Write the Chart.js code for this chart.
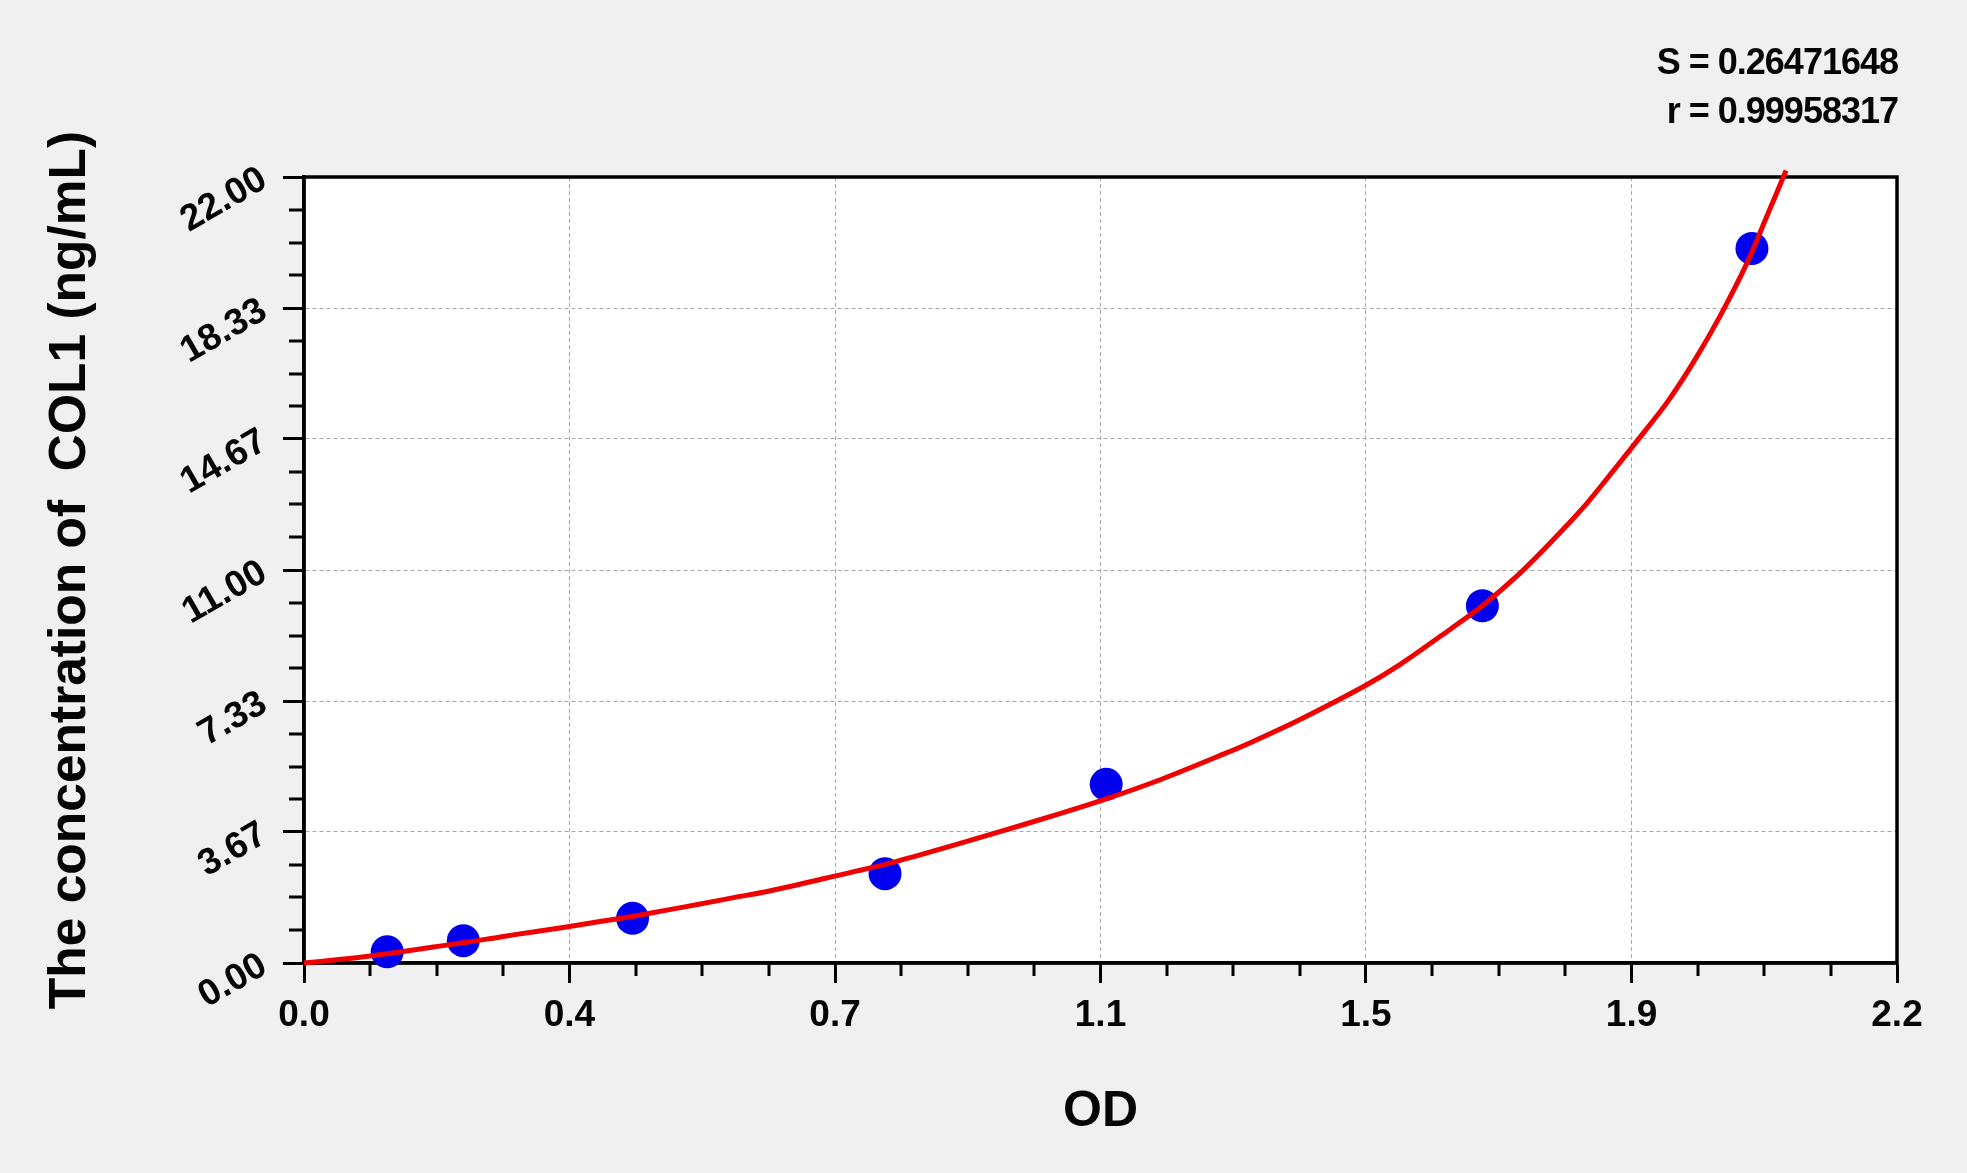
<!DOCTYPE html>
<html>
<head>
<meta charset="utf-8">
<script src="https://cdn.jsdelivr.net/npm/chart.js@4.4.1/dist/chart.umd.min.js"></script>
<style>
  html, body { margin: 0; padding: 0; background: #f0f0f0; }
  canvas { display: block; }
</style>
</head>
<body>
<canvas id="c" width="1967" height="1173"></canvas>
<script>
// ---- Data ----
const odX   = [0.117, 0.224, 0.462, 0.817, 1.128, 1.657, 2.036];
const concY = [0.3125, 0.625, 1.25, 2.5, 5, 10, 20];

const curveX = [0, 0.046, 0.088, 0.135, 0.182, 0.229, 0.276, 0.322, 0.369, 0.416, 0.463, 0.510, 0.557, 0.604, 0.651,
                0.735, 0.817, 0.876, 0.969, 1.063, 1.129, 1.204, 1.297, 1.330, 1.400, 1.492, 1.541, 1.611, 1.657,
                1.705, 1.752, 1.799, 1.846, 1.874, 1.916, 1.953, 1.991, 2.029, 2.057, 2.084];
const curveY = [0, 0.09, 0.18, 0.31, 0.45, 0.58, 0.73, 0.87, 1.01, 1.16, 1.31, 1.48, 1.65, 1.83, 2.00,
                2.38, 2.76, 3.08, 3.62, 4.18, 4.60, 5.13, 5.88, 6.16, 6.81, 7.76, 8.35, 9.33, 10.0,
                10.82, 11.75, 12.75, 13.90, 14.60, 15.67, 16.79, 18.10, 19.59, 20.90, 22.18];

const xTickValues = [0, 0.3733, 0.7467, 1.12, 1.4933, 1.8667, 2.24];
const xTickLabels = ['0.0', '0.4', '0.7', '1.1', '1.5', '1.9', '2.2'];
const yTickValues = [0, 3.67, 7.33, 11, 14.67, 18.33, 22];
const yTickLabels = ['0.00', '3.67', '7.33', '11.00', '14.67', '18.33', '22.00'];

const xTitle = 'OD';
const yTitle = 'The concentration of  COL1 (ng/mL)';
const statLines = ['S = 0.26471648', 'r = 0.99958317'];

// ---- Build datasets ----
const curveData = curveX.map((x, i) => ({ x: x, y: curveY[i] }));
const pointData = odX.map((x, i) => ({ x: x, y: concY[i] }));

const FONT = "'Liberation Sans', Arial, sans-serif";
const TEXT = '#050505';

const decor = {
  id: 'decor',
  beforeDraw(chart) {
    const { ctx, chartArea: a } = chart;
    ctx.save();
    ctx.fillStyle = '#f0f0f0';
    ctx.fillRect(0, 0, chart.width, chart.height);
    ctx.fillStyle = '#ffffff';
    ctx.fillRect(a.left, a.top, a.right - a.left, a.bottom - a.top);
    ctx.restore();
  },
  beforeDatasetsDraw(chart) {
    const { ctx, chartArea: a, scales: { x, y } } = chart;
    ctx.save();
    ctx.strokeStyle = '#000';
    ctx.lineWidth = 3;
    ctx.beginPath();
    for (let i = 0; i < xTickValues.length - 1; i++) {
      const v0 = xTickValues[i], v1 = xTickValues[i + 1];
      for (let k = 1; k < 4; k++) {
        const px = Math.round(x.getPixelForValue(v0 + (v1 - v0) * k / 4));
        ctx.moveTo(px, a.bottom);
        ctx.lineTo(px, a.bottom + 13);
      }
    }
    for (let i = 0; i < yTickValues.length - 1; i++) {
      const v0 = yTickValues[i], v1 = yTickValues[i + 1];
      for (let k = 1; k < 4; k++) {
        const py = Math.round(y.getPixelForValue(v0 + (v1 - v0) * k / 4));
        ctx.moveTo(a.left, py);
        ctx.lineTo(a.left - 15, py);
      }
    }
    ctx.stroke();
    ctx.lineWidth = 3.5;
    ctx.strokeRect(a.left, a.top, a.right - a.left, a.bottom - a.top);
    ctx.restore();
  },
  afterDraw(chart) {
    const { ctx, chartArea: a } = chart;
    ctx.save();
    ctx.fillStyle = TEXT;
    ctx.font = 'bold 36px ' + FONT;
    try { ctx.letterSpacing = '-1px'; } catch (e) {}
    ctx.textAlign = 'right';
    ctx.textBaseline = 'middle';
    ctx.fillText(statLines[0], a.right + 1, a.top - 113);
    ctx.fillText(statLines[1], a.right + 1, a.top - 64);
    ctx.restore();
  }
};

new Chart(document.getElementById('c'), {
  type: 'scatter',
  data: {
    datasets: [
      {
        label: 'fit',
        data: curveData,
        showLine: true,
        borderColor: '#f00000',
        borderWidth: 5,
        pointRadius: 0,
        tension: 0.3,
        fill: false,
        clip: false
      },
      {
        label: 'standards',
        data: pointData,
        showLine: false,
        pointRadius: 16.5,
        pointHoverRadius: 16.5,
        backgroundColor: '#0000ee',
        borderColor: '#0000ee',
        borderWidth: 0,
        clip: false
      }
    ]
  },
  plugins: [decor],
  options: {
    responsive: false,
    devicePixelRatio: 1,
    animation: false,
    events: [],
    layout: { padding: { left: 0, right: 70, top: 177, bottom: 0 } },
    plugins: {
      legend: { display: false },
      tooltip: { enabled: false },
      title: { display: false }
    },
    scales: {
      x: {
        type: 'linear',
        min: 0,
        max: 2.24,
        afterBuildTicks(scale) { scale.ticks = xTickValues.map(v => ({ value: v })); },
        afterFit(scale) { scale.height = 210; },
        ticks: {
          callback: (v, i) => xTickLabels[i],
          font: { family: FONT, size: 37, weight: 'bold', lineHeight: 1 },
          color: TEXT,
          padding: 14,
          maxRotation: 0,
          minRotation: 0,
          autoSkip: false
        },
        grid: {
          color: '#a8a8a8',
          lineWidth: 1,
          tickLength: 20,
          tickColor: '#000',
          tickWidth: 3,
          tickBorderDash: []
        },
        border: { display: true, color: '#000', width: 3.5, dash: [4, 3] },
        title: {
          display: true,
          text: xTitle,
          color: TEXT,
          font: { family: FONT, size: 50, weight: 'bold', lineHeight: 1 },
          padding: { top: 0, bottom: 36 }
        }
      },
      y: {
        type: 'linear',
        min: 0,
        max: 22,
        afterBuildTicks(scale) { scale.ticks = yTickValues.map(v => ({ value: v })); },
        afterFit(scale) { scale.width = 304; },
        ticks: {
          callback: (v, i) => yTickLabels[i],
          font: { family: FONT, size: 37, weight: 'bold', lineHeight: 1 },
          color: TEXT,
          padding: 19,
          minRotation: 30,
          maxRotation: 30,
          autoSkip: false
        },
        grid: {
          color: '#a8a8a8',
          lineWidth: 1,
          tickLength: 21,
          tickColor: '#000',
          tickWidth: 3,
          tickBorderDash: []
        },
        border: { display: true, color: '#000', width: 3.5, dash: [4, 3] },
        title: {
          display: true,
          text: yTitle,
          color: TEXT,
          font: { family: FONT, size: 51.5, weight: 'bold', lineHeight: 1 },
          padding: { top: 45, bottom: 0 }
        }
      }
    }
  }
});
</script>
</body>
</html>
